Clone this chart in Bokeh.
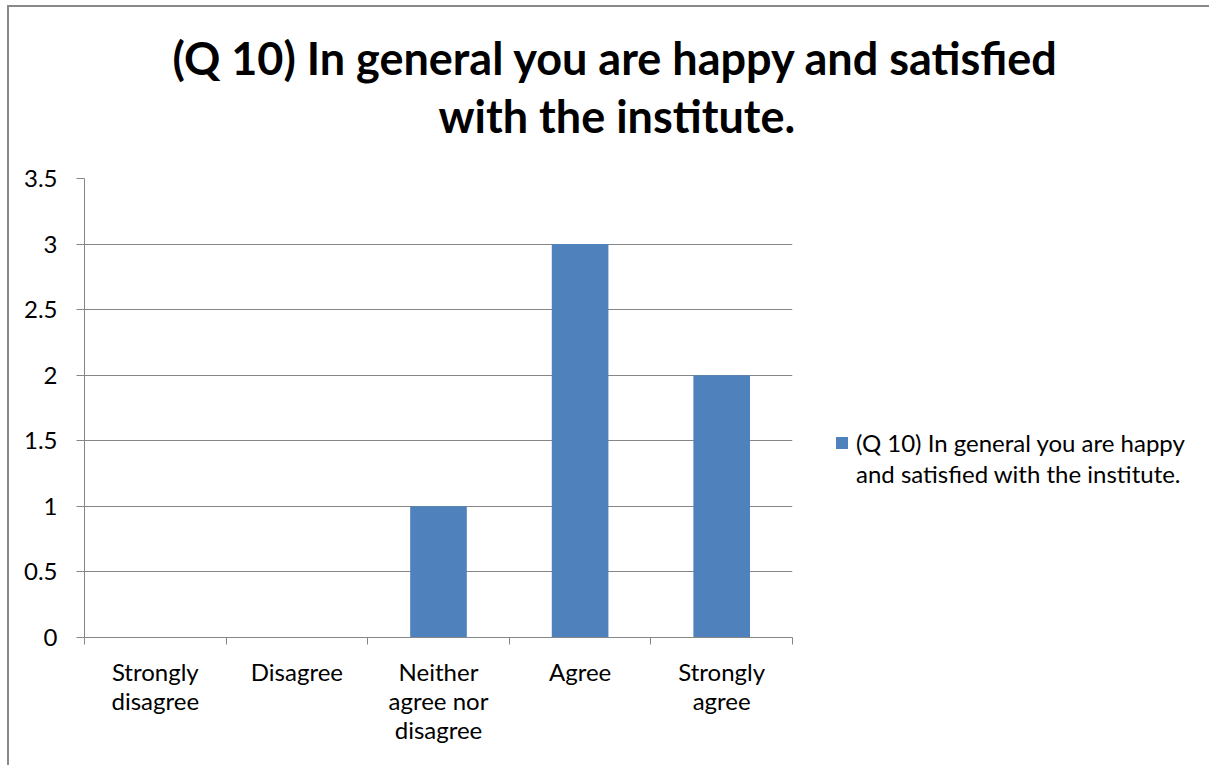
from bokeh.plotting import figure
from bokeh.layouts import column, row
from bokeh.models import (Range1d, LinearAxis, FixedTicker, Title, Legend, LegendItem,
                          CustomJSTickFormatter, ColumnDataSource)
from bokeh.embed import file_html
from bokeh.resources import INLINE

# ---- data ----
categories = ["Strongly disagree", "Disagree", "Neither agree nor disagree", "Agree", "Strongly agree"]
label_line1 = ["Strongly", "Disagree", "Neither", "Agree", "Strongly"]
label_line2 = ["disagree", "", "agree nor", "", "agree"]
label_line3 = ["", "", "disagree", "", ""]
values = [0, 0, 1, 3, 2]
y_ticks = [0, 0.5, 1, 1.5, 2, 2.5, 3, 3.5]
title_lines = ["(Q 10) In general you are happy and satisfied", "with the institute."]
series_name = "(Q 10) In general you are happy and satisfied with the institute."
legend_lines = ["(Q 10) In general you are happy", "and satisfied with the institute."]

# ---- style ----
FONT = "Lato"
GRID = "#868686"
BAR = "#4F81BD"
LBL = "24px"

def blank(fig):
    fig.outline_line_color = None
    fig.background_fill_color = "white"
    fig.border_fill_color = "white"
    fig.grid.visible = False

# ---- title strip ----
pt = figure(width=1200, height=151, output_backend="svg", toolbar_location=None,
            x_axis_location=None, y_axis_location=None,
            min_border_left=0, min_border_right=0, min_border_top=137, min_border_bottom=0)
blank(pt)
pt.title.text = title_lines[0]
pt.title.align = "left"
pt.title.offset = 163
pt.title.standoff = 0
pt.title.text_font = FONT
pt.title.text_font_size = "45px"
pt.title.text_font_style = "bold"
pt.title.text_color = "black"
pt.add_layout(Title(text=title_lines[1], align="left", offset=429, standoff=4, text_font=FONT,
                    text_font_size="45px", text_font_style="bold", text_color="black"), "above")

# ---- chart ----
p = figure(x_range=categories, y_range=Range1d(0, 3.5), width=784, height=607,
           output_backend="svg", toolbar_location=None, x_axis_location=None, title_location=None,
           min_border_left=75, min_border_right=1, min_border_top=20, min_border_bottom=128)
p.outline_line_color = None
p.background_fill_color = "white"
p.border_fill_color = "white"

p.yaxis.ticker = FixedTicker(ticks=y_ticks)
p.yaxis.formatter = CustomJSTickFormatter(code="return tick.toString();")
p.yaxis.axis_line_color = GRID
p.yaxis.major_tick_line_color = GRID
p.yaxis.major_tick_out = 8
p.yaxis.major_tick_in = 0
p.yaxis.minor_tick_line_color = None
p.yaxis.major_label_text_font = FONT
p.yaxis.major_label_text_font_size = LBL
p.yaxis.major_label_text_color = "black"
p.yaxis.major_label_standoff = 19
p.ygrid.grid_line_color = GRID
p.xgrid.grid_line_color = None

n = len(categories)
tick_axis = LinearAxis(ticker=FixedTicker(ticks=list(range(n + 1))),
                       formatter=CustomJSTickFormatter(code="return '';"),
                       axis_line_color=GRID, major_tick_line_color=GRID,
                       major_tick_out=7, major_tick_in=0, minor_tick_line_color=None,
                       major_label_standoff=0)
p.add_layout(tick_axis, "below")
for lines, standoff in ((label_line1, 12), (label_line2, -3), (label_line3, -3)):
    ax = LinearAxis(ticker=FixedTicker(ticks=[i + 0.5 for i in range(n)]),
                    formatter=CustomJSTickFormatter(args=dict(lines=lines),
                                                    code="return lines[Math.floor(tick)];"),
                    axis_line_color=None, major_tick_line_color=None, minor_tick_line_color=None,
                    major_tick_out=0, major_tick_in=0, major_label_standoff=standoff,
                    major_label_text_font=FONT, major_label_text_font_size=LBL,
                    major_label_text_color="black")
    p.add_layout(ax, "below")

src = ColumnDataSource(data=dict(cat=categories, val=values))
p.vbar(x="cat", top="val", width=0.4, source=src, fill_color=BAR, line_color=None)

# ---- legend panel (key proxy has zero height, so only its legend swatch shows) ----
p2 = figure(width=416, height=607, output_backend="svg", toolbar_location=None,
            x_axis_location=None, y_axis_location=None, title_location=None,
            min_border_left=0, min_border_right=0, min_border_top=20, min_border_bottom=128)
blank(p2)
r_key = p2.vbar(x=[0], top=[0], width=0.4, fill_color=BAR, line_color=None)
r_blank = p2.vbar(x=[0], top=[0], width=0.4, fill_alpha=0, line_alpha=0)
legend = Legend(items=[LegendItem(label=legend_lines[0], renderers=[r_key]),
                       LegendItem(label=legend_lines[1], renderers=[r_blank])],
                location=(41, 148), padding=0, margin=0, border_line_color=None,
                background_fill_alpha=0, glyph_width=15, glyph_height=15, label_standoff=7,
                spacing=0, label_height=31, label_text_font=FONT, label_text_font_size=LBL,
                label_text_color="black")
p2.add_layout(legend)

layout = column(pt, row(p, p2))
layout.styles = {"border-left": "2px solid #898989", "border-top": "2px solid #898989",
                 "margin-left": "7px", "margin-top": "5px"}

open("out.html", "w").write(file_html(layout, INLINE))
